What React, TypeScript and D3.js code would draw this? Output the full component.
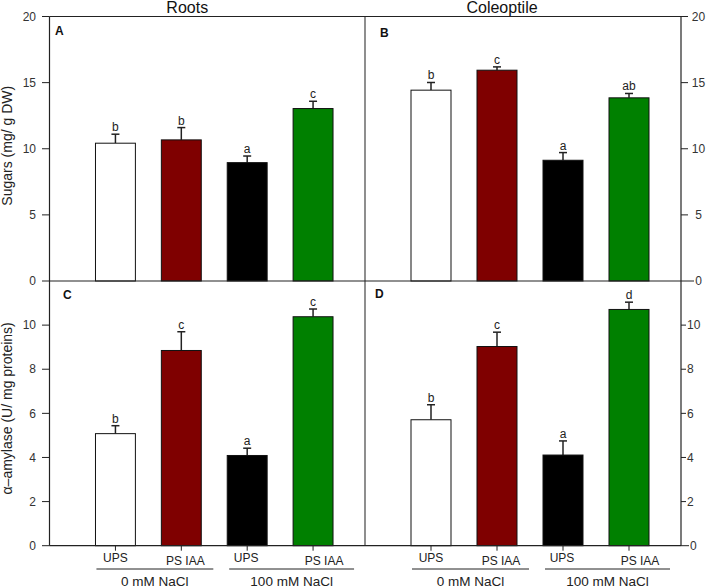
import React from "react";
import * as d3 from "d3";

// treatments (x categories) and salt groups
const categories = ["UPS", "PS IAA", "UPS", "PS IAA"];
const groups = ["0 mM NaCl", "100 mM NaCl"];
const barColors = ["#ffffff", "#7f0000", "#000000", "#008000"];
const tissues = ["Roots", "Coleoptile"];

// Sugars (mg/ g DW)
const sugarsRoots = [10.42, 10.67, 8.95, 13.04];
const sugarsRootsErr = [0.68, 0.93, 0.5, 0.55];
const sugarsRootsLetters = ["b", "b", "a", "c"];
const sugarsColeo = [14.43, 15.94, 9.13, 13.85];
const sugarsColeoErr = [0.58, 0.25, 0.58, 0.33];
const sugarsColeoLetters = ["b", "c", "a", "ab"];

// alpha-amylase (U/ mg proteins)
const amylaseRoots = [5.08, 8.85, 4.09, 10.38];
const amylaseRootsErr = [0.36, 0.85, 0.33, 0.35];
const amylaseRootsLetters = ["b", "c", "a", "c"];
const amylaseColeo = [5.71, 9.03, 4.11, 10.71];
const amylaseColeoErr = [0.68, 0.65, 0.64, 0.33];
const amylaseColeoLetters = ["b", "c", "a", "d"];

const sugarTicks = [0, 5, 10, 15, 20];
const amylaseTicks = [0, 2, 4, 6, 8, 10];

const W = 708;
const H = 588;
const FONT = "'Liberation Sans', Arial, sans-serif";
const AX = "#222";

// frame
const xLeft = 49.5;
const xMid = 365;
const xRight = 681;
const yTop = 16.5;
const yMid = 281;
const yBot = 545.7;

const ySug = d3.scaleLinear().domain([0, 20]).range([yMid, yTop]);
const yAmy = d3.scaleLinear().domain([0, 12]).range([yBot, yMid]);

const panelX = (x0: number, x1: number) =>
  d3
    .scaleBand<number>()
    .domain(d3.range(categories.length))
    .range([x0 + 33, x1 - 19])
    .paddingInner(0.394)
    .paddingOuter(0.197);

const xRoots = panelX(xLeft, xMid);
const xColeo = panelX(xMid, xRight);

// small label nudges seen in the original
const catDx = [0, 4, -1, 11];
const catDy = [0, 3, 0, 3];

type PanelProps = {
  x: d3.ScaleBand<number>;
  y: d3.ScaleLinear<number, number>;
  values: number[];
  errs: number[];
  letters: string[];
};

const Bars = ({ x, y, values, errs, letters }: PanelProps) => {
  const bw = x.bandwidth();
  return (
    <g>
      {values.map((v, i) => {
        const bx = x(i) as number;
        const cx = bx + bw / 2;
        const yv = y(v);
        const ye = y(v + errs[i]);
        return (
          <g key={i}>
            <line x1={cx} x2={cx} y1={yv} y2={ye} stroke={AX} strokeWidth={1.5} />
            <line x1={cx - 4} x2={cx + 4} y1={ye} y2={ye} stroke={AX} strokeWidth={1.5} />
            <rect
              x={bx}
              y={yv}
              width={bw}
              height={y(0) - yv}
              fill={barColors[i]}
              stroke="#111"
              strokeWidth={1}
            />
            <text
              x={cx}
              y={ye - 3}
              textAnchor="middle"
              fontSize={12}
              fill="#222"
            >
              {letters[i]}
            </text>
          </g>
        );
      })}
    </g>
  );
};

const XLabels = ({ x }: { x: d3.ScaleBand<number> }) => {
  const c = (i: number) => (x(i) as number) + x.bandwidth() / 2;
  const spans = [
    [c(0) - 19, c(1) + 32],
    [c(2) - 18, c(3) + 41],
  ];
  return (
    <g>
      {categories.map((cat, i) => (
        <g key={i}>
          <line x1={c(i)} x2={c(i)} y1={yBot} y2={yBot + 5} stroke={AX} />
          <text
            x={c(i) + catDx[i]}
            y={561.5 + catDy[i]}
            textAnchor="middle"
            fontSize={12}
            fill="#222"
          >
            {cat}
          </text>
        </g>
      ))}
      {groups.map((g, i) => (
        <g key={g}>
          <line x1={spans[i][0]} x2={spans[i][1]} y1={569} y2={569} stroke={AX} />
          <text
            x={(spans[i][0] + spans[i][1]) / 2}
            y={585.5}
            textAnchor="middle"
            fontSize={13.5}
            fill="#222"
          >
            {g}
          </text>
        </g>
      ))}
    </g>
  );
};

export default function App() {
  return (
    <svg
      width={W}
      height={H}
      style={{ position: "absolute", left: 0, top: 0, background: "#fff" }}
      fontFamily={FONT}
    >
      <rect width={W} height={H} fill="#fff" />

      {/* bars */}
      <Bars x={xRoots} y={ySug} values={sugarsRoots} errs={sugarsRootsErr} letters={sugarsRootsLetters} />
      <Bars x={xColeo} y={ySug} values={sugarsColeo} errs={sugarsColeoErr} letters={sugarsColeoLetters} />
      <Bars x={xRoots} y={yAmy} values={amylaseRoots} errs={amylaseRootsErr} letters={amylaseRootsLetters} />
      <Bars x={xColeo} y={yAmy} values={amylaseColeo} errs={amylaseColeoErr} letters={amylaseColeoLetters} />

      {/* frame */}
      <g stroke={AX} strokeWidth={1.2}>
        <line x1={xLeft} x2={xLeft} y1={yTop} y2={yBot} />
        <line x1={xRight} x2={xRight} y1={yTop} y2={yBot} />
        <line x1={xMid} x2={xMid} y1={yTop} y2={yBot} stroke="#444" />
        <line x1={xLeft} x2={xRight} y1={yTop} y2={yTop} />
        <line x1={xLeft} x2={xRight} y1={yMid} y2={yMid} />
        <line x1={xLeft} x2={xRight} y1={yBot} y2={yBot} />
      </g>

      {/* left axes */}
      {sugarTicks.map((t) => (
        <g key={"ls" + t}>
          <line x1={xLeft - 7.5} x2={xLeft} y1={ySug(t)} y2={ySug(t)} stroke={AX} />
          <text x={36} y={ySug(t)} dy="0.35em" textAnchor="end" fontSize={12} fill="#333">
            {t}
          </text>
        </g>
      ))}
      {amylaseTicks.map((t) => (
        <g key={"la" + t}>
          <line x1={xLeft - 7.5} x2={xLeft} y1={yAmy(t)} y2={yAmy(t)} stroke={AX} />
          <text x={36} y={yAmy(t)} dy="0.35em" textAnchor="end" fontSize={12} fill="#333">
            {t}
          </text>
        </g>
      ))}

      {/* right axes */}
      {sugarTicks.map((t) => (
        <g key={"rs" + t}>
          <line x1={xRight} x2={xRight + (t === 0 ? 13 : 7)} y1={ySug(t)} y2={ySug(t)} stroke={AX} />
          <text x={698.5} y={ySug(t)} dy="0.35em" textAnchor="middle" fontSize={12} fill="#333">
            {t}
          </text>
        </g>
      ))}
      {amylaseTicks.map((t) => (
        <g key={"ra" + t}>
          <line x1={xRight} x2={xRight + (t === 0 ? 8 : 5)} y1={yAmy(t)} y2={yAmy(t)} stroke={AX} />
          <text x={t === 0 ? 690 : 687} y={yAmy(t)} dy="0.35em" textAnchor="start" fontSize={12} fill="#333">
            {t}
          </text>
        </g>
      ))}

      {/* x labels */}
      <XLabels x={xRoots} />
      <XLabels x={xColeo} />

      {/* titles */}
      <text x={(xLeft + xMid) / 2 - 20} y={12.5} textAnchor="middle" fontSize={16} fill="#111">
        {tissues[0]}
      </text>
      <text x={(xMid + xRight) / 2 - 21} y={12.5} textAnchor="middle" fontSize={16} fill="#111">
        {tissues[1]}
      </text>

      {/* panel letters */}
      <g fontSize={12} fontWeight="bold" fill="#111">
        <text x={55} y={35}>A</text>
        <text x={380} y={37}>B</text>
        <text x={63} y={299}>C</text>
        <text x={375} y={298}>D</text>
      </g>

      {/* y titles */}
      <text
        transform={`translate(11.5, ${(yTop + yMid) / 2 - 3}) rotate(-90)`}
        textAnchor="middle"
        fontSize={14}
        fill="#222"
      >
        Sugars (mg/ g DW)
      </text>
      <text
        transform={`translate(11.5, ${(yMid + yBot) / 2 - 5}) rotate(-90)`}
        textAnchor="middle"
        fontSize={14}
        fill="#222"
      >
        α–amylase (U/ mg proteins)
      </text>
    </svg>
  );
}
